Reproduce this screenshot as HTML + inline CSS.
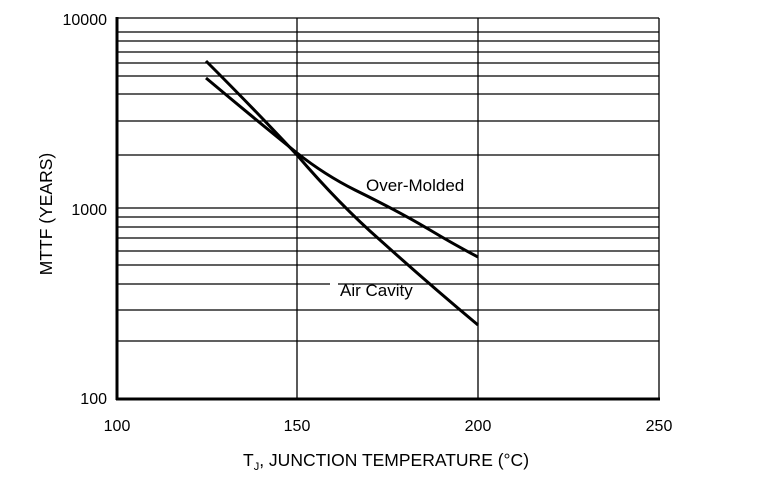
<!DOCTYPE html>
<html><head><style>
body{margin:0;background:#fff;width:772px;height:486px;overflow:hidden}
text{font-family:"Liberation Sans",Arial,sans-serif;fill:#000}
</style></head><body>
<svg width="772" height="486" xmlns="http://www.w3.org/2000/svg">
<g stroke="#000" stroke-width="1.3">
<line x1="117" y1="18" x2="659" y2="18"/>
<line x1="117" y1="32" x2="659" y2="32"/>
<line x1="117" y1="41" x2="659" y2="41"/>
<line x1="117" y1="52" x2="659" y2="52"/>
<line x1="117" y1="63" x2="659" y2="63"/>
<line x1="117" y1="76" x2="659" y2="76"/>
<line x1="117" y1="94" x2="659" y2="94"/>
<line x1="117" y1="121" x2="659" y2="121"/>
<line x1="117" y1="155" x2="659" y2="155"/>
<line x1="117" y1="208" x2="659" y2="208"/>
<line x1="117" y1="217" x2="659" y2="217"/>
<line x1="117" y1="227" x2="659" y2="227"/>
<line x1="117" y1="238" x2="659" y2="238"/>
<line x1="117" y1="251" x2="659" y2="251"/>
<line x1="117" y1="265" x2="659" y2="265"/>
<line x1="117" y1="284" x2="659" y2="284"/>
<line x1="117" y1="310" x2="659" y2="310"/>
<line x1="117" y1="341" x2="659" y2="341"/>
<line x1="297" y1="18" x2="297" y2="398"/>
<line x1="478" y1="18" x2="478" y2="398"/>
<line x1="659" y1="18" x2="659" y2="398"/>
</g>
<line x1="117" y1="17" x2="117" y2="400" stroke="#000" stroke-width="3"/>
<line x1="116" y1="399" x2="660" y2="399" stroke="#000" stroke-width="3"/>
<g fill="none" stroke="#000" stroke-width="3">
<path d="M206,61 Q255,110 297,155 Q340,205 380,240 Q430,285 478,325"/>
<path d="M206,78 Q250,115 297,153 Q325,175 355,190 Q400,212 430,230 Q455,245 478,257"/>
</g>
<rect x="330" y="280" width="8" height="14" fill="#fff"/>
<text x="366" y="191" font-size="17">Over-Molded</text>
<text x="340" y="296" font-size="17">Air Cavity</text>
<g font-size="16" text-anchor="end">
<text x="107" y="25">10000</text>
<text x="107" y="215">1000</text>
<text x="107" y="404">100</text>
</g>
<g font-size="16" text-anchor="middle">
<text x="117" y="431">100</text>
<text x="297" y="431">150</text>
<text x="478" y="431">200</text>
<text x="659" y="431">250</text>
</g>
<text x="243" y="466" font-size="17.5">T<tspan font-size="11" dy="4">J</tspan><tspan dy="-4">, JUNCTION TEMPERATURE (°C)</tspan></text>
<text transform="translate(52,214) rotate(-90)" font-size="17.5" text-anchor="middle">MTTF (YEARS)</text>
</svg>
</body></html>
